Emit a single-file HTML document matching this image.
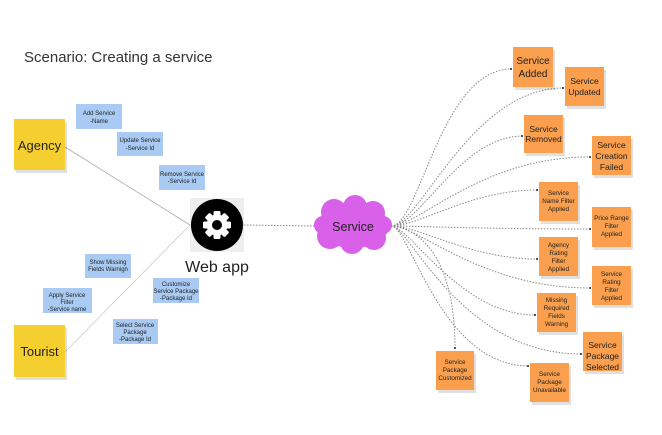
<!DOCTYPE html>
<html><head><meta charset="utf-8"><style>
body{margin:0;background:#fff;}
svg{display:block;font-family:"Liberation Sans",sans-serif;}
.y{fill:#f5cf2f;}
.b{fill:#a9cbf3;}
.o{fill:#f99f4e;}
.sh{fill:#000;opacity:.12;}
.dl{fill:none;stroke:#888;stroke-width:1;stroke-dasharray:1.5 1.5;}
text{fill:#222;text-anchor:middle;}
</style></head><body>
<svg width="662" height="435" viewBox="0 0 662 435">
<text x="24" y="62" style="text-anchor:start;font-size:15px;fill:#333">Scenario: Creating a service</text>

<line x1="65" y1="147" x2="190" y2="225" stroke="#aaa" stroke-width="0.8"/>
<line x1="65" y1="352" x2="190" y2="225" stroke="#ccc" stroke-width="0.8"/>
<line x1="244" y1="225" x2="315" y2="226" class="dl"/>

<rect class="sh" x="16" y="122" width="51" height="51"/>
<rect class="y" x="14" y="119" width="51" height="51"/>
<text x="39.5" y="150" style="font-size:13px">Agency</text>
<rect class="sh" x="16" y="328" width="51" height="52"/>
<rect class="y" x="14" y="325" width="51" height="52"/>
<text x="39.5" y="356" style="font-size:13px">Tourist</text>

<g style="font-size:6px">
<rect class="b" x="76" y="104" width="46" height="25"/><text x="99" y="115">Add Service</text><text x="99" y="123">-Name</text>
<rect class="b" x="117" y="132" width="46" height="24"/><text x="140" y="142">Update Service</text><text x="140" y="150">-Service Id</text>
<rect class="b" x="159" y="165" width="46" height="25"/><text x="182" y="176">Remove Service</text><text x="182" y="183">-Service Id</text>
<rect class="b" x="85" y="254" width="46" height="24"/><text x="108" y="264">Show Missing</text><text x="108" y="271">Fields Warnign</text>
<rect class="b" x="43" y="288" width="49" height="25"/><text x="67" y="297">Apply Service</text><text x="67" y="304">Filter</text><text x="67" y="311">-Service name</text>
<rect class="b" x="153" y="278" width="46" height="25"/><text x="176" y="286">Customize</text><text x="176" y="293">Service Package</text><text x="176" y="300">-Package Id</text>
<rect class="b" x="113" y="319" width="45" height="25"/><text x="135" y="327">Select Service</text><text x="135" y="334">Package</text><text x="135" y="341">-Package Id</text>
</g>

<rect x="190" y="198" width="54" height="54" fill="#eee"/>
<circle cx="217" cy="225" r="26" fill="#000"/>
<g transform="translate(217,225)" fill="#fff">
<circle r="10.5"/>
<g><rect x="-3.5" y="-14" width="7" height="28" rx="1.5"/><rect x="-3.5" y="-14" width="7" height="28" rx="1.5" transform="rotate(45)"/><rect x="-3.5" y="-14" width="7" height="28" rx="1.5" transform="rotate(90)"/><rect x="-3.5" y="-14" width="7" height="28" rx="1.5" transform="rotate(135)"/></g>
<circle r="5" fill="#000"/>
</g>
<text x="217" y="272" style="font-size:16px">Web app</text>

<g fill="#d960e8">
<ellipse cx="353" cy="226" rx="36" ry="22"/>
<circle cx="334" cy="212" r="13"/><circle cx="355" cy="207" r="12"/><circle cx="373" cy="213" r="12"/>
<circle cx="330" cy="236" r="13"/><circle cx="352" cy="242" r="12"/><circle cx="374" cy="238" r="12"/>
<circle cx="323" cy="225" r="9"/><circle cx="383" cy="225" r="9"/>
</g>
<text x="353" y="231" style="font-size:12.5px">Service</text>

<g class="dl">
<path d="M391 226 C420 226 440 70 511 69"/>
<path d="M391 226 C420 226 470 89 563 88"/>
<path d="M391 226 C420 226 460 137 522 136"/>
<path d="M391 226 C420 226 480 157 590 157"/>
<path d="M391 226 C420 226 470 190 537 190"/>
<path d="M391 226 C420 226 480 229 590 229"/>
<path d="M391 226 C420 226 470 259 537 259"/>
<path d="M391 226 C420 226 480 288 590 288"/>
<path d="M391 226 C410 226 460 315 535 315"/>
<path d="M391 226 C410 226 460 354 581 354"/>
<path d="M391 226 C410 226 440 365 528 366"/>
<path d="M391 226 C405 226 455 240 455 348"/>
</g>
<g fill="#555">
<rect x="510" y="68" width="2" height="2"/><rect x="562" y="87" width="2" height="2"/><rect x="521" y="135" width="2" height="2"/><rect x="589" y="156" width="2" height="2"/><rect x="536" y="189" width="2" height="2"/><rect x="589" y="228" width="2" height="2"/><rect x="536" y="258" width="2" height="2"/><rect x="589" y="287" width="2" height="2"/><rect x="534" y="314" width="2" height="2"/><rect x="580" y="353" width="2" height="2"/><rect x="527" y="365" width="2" height="2"/><rect x="454" y="347" width="2" height="2"/>
</g>

<g>
<rect class="sh" x="515" y="50" width="40" height="40"/><rect class="o" x="513" y="47" width="40" height="40"/>
<rect class="sh" x="567" y="70" width="39" height="39"/><rect class="o" x="565" y="67" width="39" height="39"/>
<rect class="sh" x="526" y="118" width="39" height="38"/><rect class="o" x="524" y="115" width="39" height="38"/>
<rect class="sh" x="594" y="139" width="39" height="39"/><rect class="o" x="592" y="136" width="39" height="39"/>
<rect class="sh" x="541" y="185" width="39" height="39"/><rect class="o" x="539" y="182" width="39" height="39"/>
<rect class="sh" x="594" y="210" width="39" height="40"/><rect class="o" x="592" y="207" width="39" height="40"/>
<rect class="sh" x="541" y="240" width="39" height="39"/><rect class="o" x="539" y="237" width="39" height="39"/>
<rect class="sh" x="594" y="269" width="39" height="39"/><rect class="o" x="592" y="266" width="39" height="39"/>
<rect class="sh" x="539" y="296" width="39" height="39"/><rect class="o" x="537" y="293" width="39" height="39"/>
<rect class="sh" x="585" y="335" width="39" height="39"/><rect class="o" x="583" y="332" width="39" height="39"/>
<rect class="sh" x="438" y="354" width="38" height="39"/><rect class="o" x="436" y="351" width="38" height="39"/>
<rect class="sh" x="532" y="366" width="39" height="39"/><rect class="o" x="530" y="363" width="39" height="39"/>
</g>
<g style="font-size:10px">
<text x="533" y="64">Service</text><text x="533" y="77">Added</text>
</g>
<g style="font-size:8.5px">
<text x="584.5" y="84">Service</text><text x="584.5" y="95">Updated</text>
<text x="543.5" y="132">Service</text><text x="543.5" y="142">Removed</text>
<text x="611.5" y="148">Service</text><text x="611.5" y="159">Creation</text><text x="611.5" y="170">Failed</text>
<text x="602.5" y="348">Service</text><text x="602.5" y="359">Package</text><text x="602.5" y="370">Selected</text>
</g>
<g style="font-size:6.3px">
<text x="558.5" y="195">Service</text><text x="558.5" y="203">Name Filter</text><text x="558.5" y="211">Applied</text>
<text x="611.5" y="220">Price Range</text><text x="611.5" y="228">Filter</text><text x="611.5" y="236">Applied</text>
<text x="558.5" y="247">Agency</text><text x="558.5" y="255">Rating</text><text x="558.5" y="263">Filter</text><text x="558.5" y="271">Applied</text>
<text x="611.5" y="276">Service</text><text x="611.5" y="284">Rating</text><text x="611.5" y="292">Filter</text><text x="611.5" y="300">Applied</text>
<text x="556.5" y="302">Missing</text><text x="556.5" y="310">Required</text><text x="556.5" y="318">Fields</text><text x="556.5" y="326">Warning</text>
<text x="455" y="364">Service</text><text x="455" y="372">Package</text><text x="455" y="380">Customized</text>
<text x="549.5" y="376">Service</text><text x="549.5" y="384">Package</text><text x="549.5" y="392">Unavailable</text>
</g>
</svg>
</body></html>
